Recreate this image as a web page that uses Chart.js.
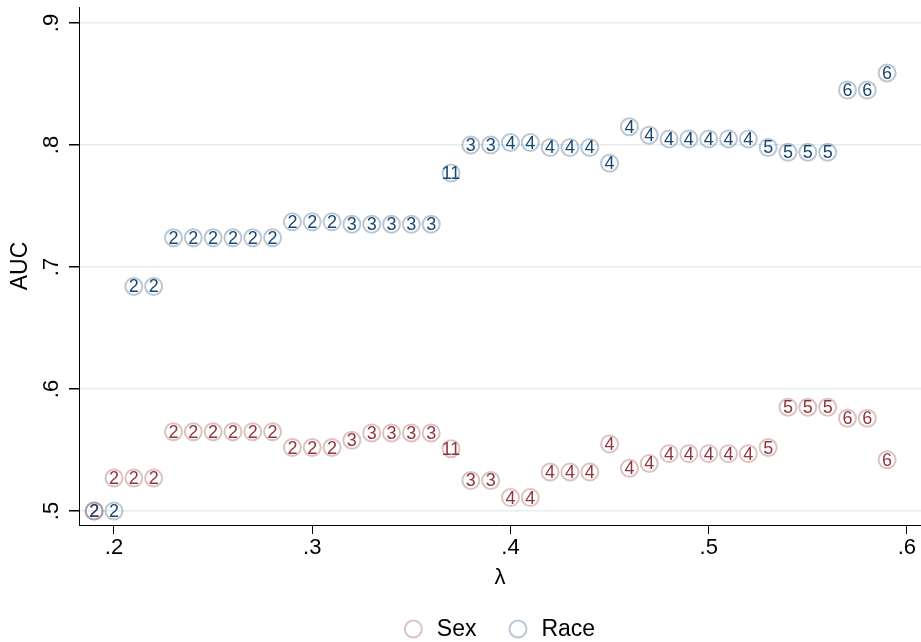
<!DOCTYPE html>
<html lang="en">
<head>
<meta charset="UTF-8">
<title>AUC by lambda</title>
<script src="https://cdn.jsdelivr.net/npm/chart.js"></script>
<style>
    body { margin: 0; background: #fff; }
    #wrap { width: 921px; height: 642px; }
</style>
</head>
<body>
<div id="wrap"><canvas id="chart" width="921" height="642"></canvas></div>
<script>
    // lambda values (x)
    const lambda = [0.19, 0.20, 0.21, 0.22, 0.23, 0.24, 0.25, 0.26, 0.27, 0.28,
        0.29, 0.30, 0.31, 0.32, 0.33, 0.34, 0.35, 0.36, 0.37, 0.38,
        0.39, 0.40, 0.41, 0.42, 0.43, 0.44, 0.45, 0.46, 0.47, 0.48,
        0.49, 0.50, 0.51, 0.52, 0.53, 0.54, 0.55, 0.56, 0.57, 0.58, 0.59];

    const sexAUC = [0.500, 0.527, 0.527, 0.527, 0.565, 0.565, 0.565, 0.565, 0.565, 0.565,
        0.552, 0.552, 0.552, 0.558, 0.564, 0.564, 0.564, 0.564, 0.551, 0.525,
        0.525, 0.511, 0.511, 0.532, 0.532, 0.532, 0.555, 0.535, 0.539, 0.547,
        0.547, 0.547, 0.547, 0.547, 0.552, 0.585, 0.585, 0.585, 0.576, 0.576, 0.542];

    const raceAUC = [0.500, 0.500, 0.684, 0.684, 0.724, 0.724, 0.724, 0.724, 0.724, 0.724,
        0.737, 0.737, 0.737, 0.735, 0.735, 0.735, 0.735, 0.735, 0.777, 0.800,
        0.800, 0.802, 0.802, 0.798, 0.798, 0.798, 0.785, 0.815, 0.808, 0.805,
        0.805, 0.805, 0.805, 0.805, 0.798, 0.794, 0.794, 0.794, 0.845, 0.845, 0.859];

    // number shown inside each marker
    const markerLabels = ['2', '2', '2', '2', '2', '2', '2', '2', '2', '2',
        '2', '2', '2', '3', '3', '3', '3', '3', '11', '3',
        '3', '4', '4', '4', '4', '4', '4', '4', '4', '4',
        '4', '4', '4', '4', '5', '5', '5', '5', '6', '6', '6'];

    const seriesNames = ['Sex', 'Race'];
    const xTicks = [0.2, 0.3, 0.4, 0.5, 0.6];
    const xTickLabels = ['.2', '.3', '.4', '.5', '.6'];
    const yTicks = [0.5, 0.6, 0.7, 0.8, 0.9];
    const yTickLabels = ['.5', '.6', '.7', '.8', '.9'];

    const FONT = '"Liberation Sans", Arial, sans-serif';
    const textColors = ['#90353b', '#1a476f'];
    const ringColors = ['rgba(144,53,59,0.3)', 'rgba(26,71,111,0.3)'];

    const pts = (ys) => lambda.map((x, i) => ({ x: x, y: ys[i] }));

    // numbers inside the circles
    const markerText = {
        id: 'markerText',
        afterDatasetsDraw(chart) {
            const ctx = chart.ctx;
            ctx.save();
            ctx.font = '18px ' + FONT;
            ctx.textAlign = 'center';
            ctx.textBaseline = 'middle';
            [0, 1].forEach(di => {
                const meta = chart.getDatasetMeta(di);
                ctx.fillStyle = textColors[di];
                meta.data.forEach((el, i) => {
                    ctx.fillText(markerLabels[i], el.x, el.y + 1);
                });
            });
            ctx.restore();
        }
    };

    // rotated y tick labels + legend
    const extras = {
        id: 'extras',
        afterDraw(chart) {
            const ys = chart.scales.y, ctx = chart.ctx, area = chart.chartArea;
            ctx.save();
            ctx.font = '22px ' + FONT;
            ctx.fillStyle = '#000';
            ctx.textAlign = 'center';
            ctx.textBaseline = 'alphabetic';
            ys.ticks.forEach((t, i) => {
                const py = ys.getPixelForValue(t.value);
                ctx.save();
                ctx.translate(58, py);
                ctx.rotate(-Math.PI / 2);
                ctx.fillText(yTickLabels[i], 0, 0);
                ctx.restore();
            });

            // legend below the axis title
            ctx.font = '23px ' + FONT;
            ctx.textAlign = 'left';
            ctx.textBaseline = 'middle';
            const r = 8.5, gapText = 15, gapItem = 33, ly = 629;
            const widths = seriesNames.map(s => ctx.measureText(s).width);
            let total = 0;
            widths.forEach((w, i) => { total += 2 * r + gapText + w + (i ? 0 : gapItem); });
            let x = (area.left + area.right) / 2 - total / 2;
            seriesNames.forEach((s, i) => {
                ctx.beginPath();
                ctx.arc(x + r, ly, r, 0, Math.PI * 2);
                ctx.lineWidth = 2;
                ctx.strokeStyle = ringColors[i];
                ctx.stroke();
                x += 2 * r + gapText;
                ctx.fillStyle = '#000';
                ctx.fillText(s, x, ly + 1);
                x += widths[i] + gapItem;
            });
            ctx.restore();
        }
    };

    new Chart(document.getElementById('chart'), {
        type: 'scatter',
        data: {
            datasets: seriesNames.map((name, i) => ({
                label: name,
                data: pts(i === 0 ? sexAUC : raceAUC),
                pointRadius: 8.5,
                pointHoverRadius: 8.5,
                pointBorderWidth: 2,
                pointBackgroundColor: 'rgba(0,0,0,0)',
                pointBorderColor: ringColors[i],
                backgroundColor: 'rgba(0,0,0,0)',
                borderColor: ringColors[i]
            }))
        },
        options: {
            responsive: false,
            animation: false,
            devicePixelRatio: 1,
            layout: { autoPadding: false, padding: { top: 7, right: 0, left: 0, bottom: 0 } },
            scales: {
                x: {
                    type: 'linear',
                    min: 0.18235,
                    max: 0.6071,
                    afterBuildTicks: (s) => { s.ticks = xTicks.map(v => ({ value: v })); },
                    afterFit: (s) => { s.height = 117; s.paddingLeft = 0; s.paddingRight = 0; },
                    grid: { drawOnChartArea: false, drawTicks: true, tickLength: 9, tickColor: '#000' },
                    border: { display: true, color: '#000', width: 1 },
                    ticks: {
                        autoSkip: false, maxRotation: 0, padding: 1,
                        color: '#000', font: { family: FONT, size: 22 },
                        callback: (v, i) => xTickLabels[i]
                    },
                    title: {
                        display: true, text: 'λ', color: '#000',
                        font: { family: FONT, size: 22 },
                        padding: { top: 0, bottom: 51 }
                    }
                },
                y: {
                    type: 'linear',
                    min: 0.48852,
                    max: 0.9131,
                    afterBuildTicks: (s) => { s.ticks = yTicks.map(v => ({ value: v })); },
                    afterFit: (s) => { s.width = 79; s.paddingTop = 0; s.paddingBottom = 0; },
                    grid: { color: '#e5eef0', lineWidth: 1.5, drawTicks: true, tickLength: 10, tickColor: '#000' },
                    border: { display: true, color: '#000', width: 1 },
                    ticks: { display: false },
                    title: {
                        display: true, text: 'AUC', color: '#000',
                        font: { family: FONT, size: 23 },
                        padding: { top: 7, bottom: 0 }
                    }
                }
            },
            plugins: {
                legend: { display: false },
                tooltip: { enabled: false }
            }
        },
        plugins: [markerText, extras]
    });
</script>
</body>
</html>
